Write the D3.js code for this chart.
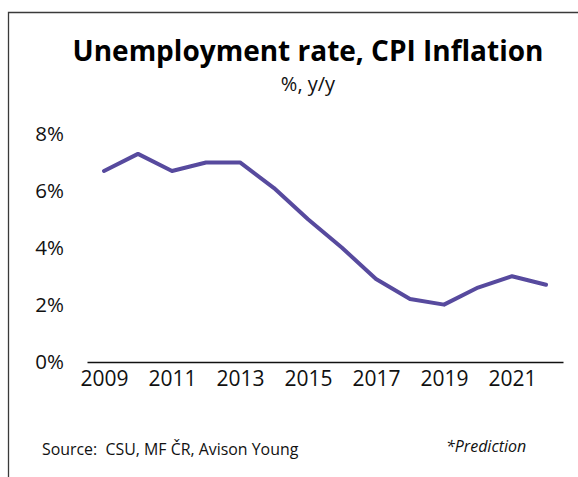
<!DOCTYPE html>
<html>
<head>
<meta charset="utf-8">
<script src="https://cdn.jsdelivr.net/npm/d3@7"></script>
<style>
  html, body { margin: 0; padding: 0; background: #fff; }
  svg { display: block; font-family: "Open Sans", sans-serif; }
</style>
</head>
<body>
<svg id="chart" width="578" height="477"></svg>
<script>
const years = [2009, 2010, 2011, 2012, 2013, 2014, 2015, 2016, 2017, 2018, 2019, 2020, 2021, 2022];
const unemployment = [6.7, 7.3, 6.7, 7.0, 7.0, 6.1, 5.0, 4.0, 2.9, 2.2, 2.0, 2.6, 3.0, 2.7];
const yTicks = [0, 2, 4, 6, 8];
const xTickLabels = [2009, 2011, 2013, 2015, 2017, 2019, 2021];
const titleText = "Unemployment rate, CPI Inflation";
const subtitleText = "%, y/y";
const sourceText = "Source:  CSU, MF ČR, Avison Young";
const noteText = "*Prediction";

const svg = d3.select("#chart");
const lineColor = "#574a9e";

// frame (top and left border)
svg.append("path")
  .attr("d", "M8.5,477 L8.5,12.5 L578,12.5")
  .attr("fill", "none")
  .attr("stroke", "#3a3a3a")
  .attr("stroke-width", 1.3);

const x = d3.scalePoint().domain(years).range([87, 563]).padding(0.5);
const y = d3.scaleLinear().domain([0, 8]).range([361.5, 134]);

// title
svg.append("text")
  .attr("x", 308).attr("y", 61)
  .attr("text-anchor", "middle")
  .attr("font-size", 28).attr("font-weight", 700)
  .attr("fill", "#000")
  .text(titleText);
svg.append("text")
  .attr("x", 308).attr("y", 90.5)
  .attr("text-anchor", "middle")
  .attr("font-size", 20)
  .attr("fill", "#111")
  .text(subtitleText);

// y axis (labels only)
const yAxis = d3.axisLeft(y).tickValues(yTicks).tickSize(0).tickPadding(0)
  .tickFormat(d => d + "%");
const gy = svg.append("g").attr("transform", "translate(64,0)").call(yAxis);
gy.select(".domain").remove();
gy.selectAll("text").attr("font-size", 20.5).attr("fill", "#111")
  .attr("font-family", "'Open Sans', sans-serif");

// x axis
const xAxis = d3.axisBottom(x).tickSize(0).tickPadding(9)
  .tickFormat(d => xTickLabels.includes(d) ? d : "");
const gx = svg.append("g").attr("transform", `translate(0,${y(0) + 0.5})`).call(xAxis);
gx.select(".domain").attr("stroke", "#111").attr("stroke-width", 1.3);
gx.selectAll("text").attr("font-size", 21).attr("fill", "#111")
  .attr("font-family", "'Open Sans', sans-serif");

// line
const line = d3.line()
  .x((d, i) => x(years[i]))
  .y(d => y(d));
svg.append("path")
  .datum(unemployment)
  .attr("d", line)
  .attr("fill", "none")
  .attr("stroke", lineColor)
  .attr("stroke-width", 4)
  .attr("stroke-linejoin", "round")
  .attr("stroke-linecap", "round");

// footer
svg.append("text")
  .attr("x", 42).attr("y", 455)
  .attr("font-size", 15.9)
  .attr("fill", "#111")
  .attr("xml:space", "preserve")
  .style("white-space", "pre")
  .text(sourceText);
svg.append("text")
  .attr("x", 446).attr("y", 452)
  .attr("font-size", 16)
  .attr("font-style", "italic")
  .attr("fill", "#111")
  .text(noteText);
</script>
</body>
</html>
